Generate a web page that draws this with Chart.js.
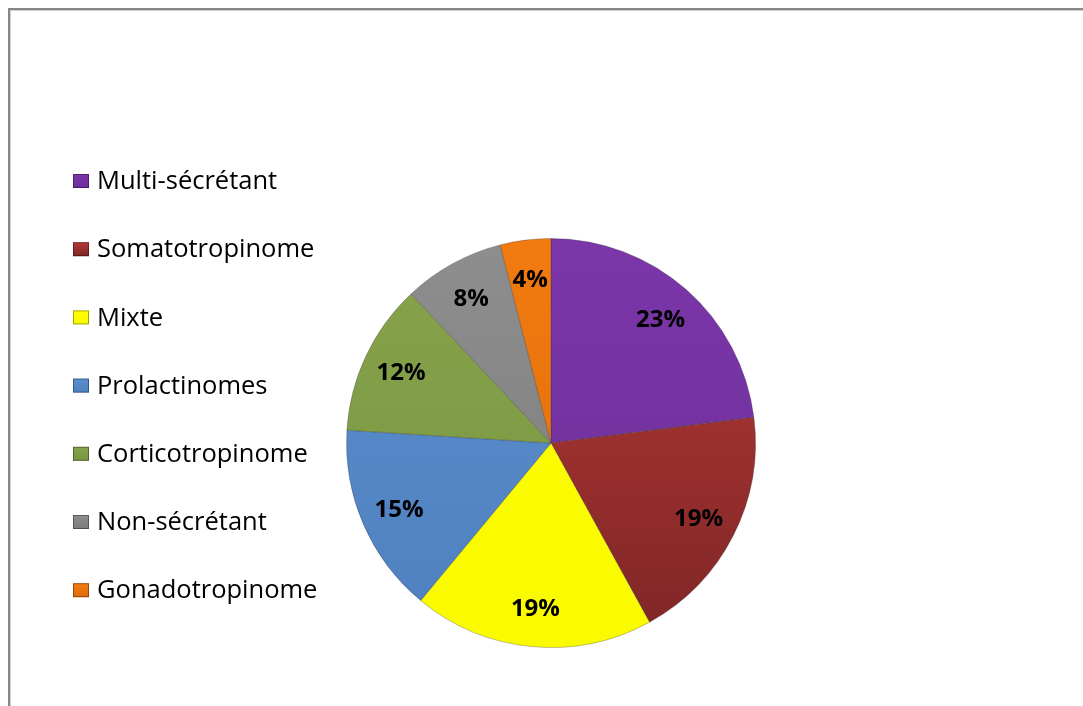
<!DOCTYPE html>
<html>
<head>
<meta charset="utf-8">
<script src="https://cdn.jsdelivr.net/npm/chart.js@4/dist/chart.umd.min.js"></script>
<style>
    html, body { margin: 0; padding: 0; background: #fff; }
    #wrap { width: 1083px; height: 706px; position: relative; }
</style>
</head>
<body>
<div id="wrap"><canvas id="adenomes"></canvas></div>
<script>
// types d'adenomes et leur part (%)
var types = ['Multi-sécrétant', 'Somatotropinome', 'Mixte', 'Prolactinomes', 'Corticotropinome', 'Non-sécrétant', 'Gonadotropinome'];
var parts = [23, 19, 19, 15, 12, 8, 4];
var couleurs = ['#7b36a9', '#b63a37', '#ffff00', '#5b8fd0', '#87a44b', '#8e8e8e', '#f27b10'];
var couleursBas = ['#6e2f99', '#7e2526', '#fafa00', '#4f80bf', '#789443', '#7c7c7c', '#e06c0a'];

// cadre gris en haut et a gauche
var cadre = {
    id: 'cadre',
    beforeDraw: function(chart) {
        var ctx = chart.ctx;
        ctx.save();
        ctx.fillStyle = '#fff';
        ctx.fillRect(0, 0, chart.width, chart.height);
        ctx.fillStyle = '#878787';
        ctx.fillRect(8, 8, chart.width - 8, 2);
        ctx.fillRect(8, 8, 2, chart.height - 8);
        ctx.fillStyle = '#cfcfcf';
        ctx.fillRect(10, 10, chart.width - 10, 1);
        ctx.fillRect(10, 10, 1, chart.height - 10);
        ctx.restore();
    }
};

// legende a gauche, une ligne tous les 68px
var legende = {
    id: 'legende',
    afterDraw: function(chart) {
        var ctx = chart.ctx;
        ctx.save();
        ctx.font = '25.5px "Open Sans"';
        ctx.textBaseline = 'middle';
        types.forEach(function(t, i) {
            var y = 181 + i * 68.2;
            var g = ctx.createLinearGradient(0, y - 7, 0, y + 7);
            g.addColorStop(0, couleurs[i]);
            g.addColorStop(1, couleursBas[i]);
            ctx.fillStyle = g;
            ctx.fillRect(73, y - 7, 16, 14);
            ctx.strokeStyle = 'rgba(0,0,0,0.35)';
            ctx.lineWidth = 1;
            ctx.strokeRect(73.5, y - 6.5, 15, 13);
            ctx.fillStyle = '#000';
            ctx.fillText(t, 97, y + 1);
        });
        ctx.restore();
    }
};

// pourcentages dans les parts
var etiquettes = {
    id: 'etiquettes',
    afterDatasetsDraw: function(chart) {
        var ctx = chart.ctx;
        var arcs = chart.getDatasetMeta(0).data;
        ctx.save();
        ctx.font = 'bold 24px "Open Sans"';
        ctx.fillStyle = '#000';
        ctx.textAlign = 'center';
        ctx.textBaseline = 'middle';
        arcs.forEach(function(arc, i) {
            var p = arc.getProps(['x', 'y', 'startAngle', 'endAngle', 'outerRadius']);
            var a = (p.startAngle + p.endAngle) / 2;
            var r = p.outerRadius * 0.81;
            ctx.fillText(parts[i] + '%', p.x + Math.cos(a) * r, p.y + Math.sin(a) * r + 1);
        });
        ctx.restore();
    }
};

function remplissage(context) {
    var chart = context.chart;
    var area = chart.chartArea;
    if (!area) return couleurs[context.dataIndex];
    var g = chart.ctx.createLinearGradient(0, area.top, 0, area.bottom);
    g.addColorStop(0, couleurs[context.dataIndex]);
    g.addColorStop(1, couleursBas[context.dataIndex]);
    return g;
}

var ctx = document.getElementById('adenomes');
var chart = new Chart(ctx, {
    type: 'pie',
    data: {
        labels: types,
        datasets: [{
            data: parts,
            backgroundColor: remplissage,
            borderColor: 'rgba(50,50,50,0.3)',
            borderWidth: 1
        }]
    },
    options: {
        responsive: true,
        maintainAspectRatio: false,
        animation: false,
        layout: {
            padding: { top: 238, bottom: 58, left: 346, right: 327 }
        },
        plugins: {
            legend: { display: false },
            tooltip: { enabled: false }
        }
    },
    plugins: [cadre, legende, etiquettes]
});
</script>
</body>
</html>
